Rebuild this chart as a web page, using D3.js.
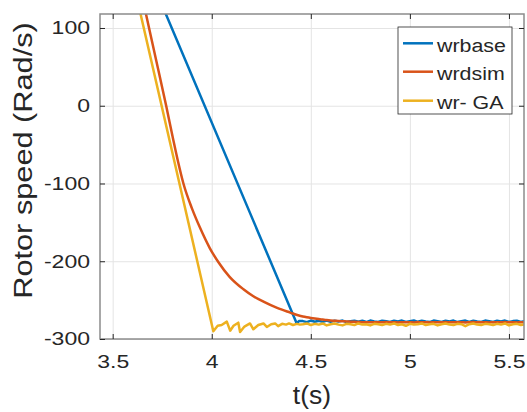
<!DOCTYPE html>
<html>
<head>
<meta charset="utf-8">
<script src="https://cdn.jsdelivr.net/npm/d3@7"></script>
<style>
  html, body { margin: 0; padding: 0; background: #fff; }
  text { font-family: 'Liberation Sans', Arial, Helvetica, sans-serif; fill: #262626; }
</style>
</head>
<body>
<div id="chart"></div>
<script>
// axis limits and ticks
const xLim = [3.436, 5.576]
const yLim = [-300, 118]
const xTicks = [3.5, 4, 4.5, 5, 5.5]
const yTicks = [-300, -200, -100, 0, 100]

const seriesNames = ['wrbase', 'wrdsim', 'wr- GA']
const seriesColors = ['#0072BD', '#D95319', '#EDB120']

// transient part of each curve [t, w]
const blueHead = [[3.74, 135], [4.429, -280], [4.44, -277]]
const orangeHead = [[3.64, 152], [3.668, 118], [3.72, 58], [3.77, 0], [3.806, -44], [3.83, -72],
  [3.857, -100], [3.90, -132], [3.941, -157], [3.99, -183], [4.033, -201], [4.09, -220],
  [4.16, -236], [4.21, -245], [4.261, -252], [4.33, -260], [4.396, -266], [4.44, -269.8]]
const yellowHead = [[3.62, 141], [4.008, -290], [4.03, -283], [4.05, -282], [4.076, -277.7],
  [4.093, -289.3], [4.11, -283], [4.134, -279], [4.143, -291], [4.165, -284], [4.193, -280],
  [4.21, -287.5], [4.235, -282], [4.261, -280], [4.278, -284.5], [4.30, -281], [4.32, -280],
  [4.335, -283.5], [4.355, -280.5], [4.375, -281.5], [4.39, -280], [4.41, -282], [4.43, -280.5],
  [4.445, -281.5]]

// steady part, shared time samples
const tTail = [4.46, 4.48, 4.50, 4.52, 4.54, 4.56, 4.58, 4.60, 4.62, 4.64,
  4.66, 4.68, 4.70, 4.72, 4.74, 4.76, 4.78, 4.80, 4.82, 4.84,
  4.86, 4.88, 4.90, 4.92, 4.94, 4.96, 4.98, 5.00, 5.02, 5.04,
  5.06, 5.08, 5.10, 5.12, 5.14, 5.16, 5.18, 5.20, 5.22, 5.24,
  5.26, 5.28, 5.30, 5.32, 5.34, 5.36, 5.38, 5.40, 5.42, 5.44,
  5.46, 5.48, 5.50, 5.52, 5.54, 5.56, 5.58]
const blueTail = [-277, -278.3, -276.3, -277.8, -276.5, -278, -276.2, -277.8, -276.6, -277.4,
  -276.3, -278.1, -277, -276.4, -277.9, -276.6, -278.2, -276.3, -277.5, -278,
  -276.4, -277.2, -278.2, -276.6, -277.5, -276.3, -278, -277, -276.2, -277.9,
  -276.6, -277.5, -278.2, -276.3, -277.1, -278, -276.6, -277.5, -276.3, -278.2,
  -277, -276.3, -278, -276.6, -277.5, -278, -276.3, -277.1, -278.2, -276.6,
  -277.5, -276.3, -278, -277, -276.6, -278, -277]
const orangeTail = [-271, -272, -272.9, -273.7, -274.4, -275, -275.6, -276.1, -276.5, -276.9,
  -277.2, -277.5, -277.7, -277.9, -278.1, -278.3, -278.4, -278.5, -278.3, -278.6,
  -278.4, -278.2, -278.6, -278.4, -278.7, -278.3, -278.5, -278.4, -278.7, -278.2,
  -278.5, -278.4, -278.7, -278.3, -278.6, -278.4, -278.2, -278.6, -278.4, -278.5,
  -278.3, -278.7, -278.4, -278.2, -278.6, -278.4, -278.5, -278.7, -278.3, -278.4,
  -278.6, -278.2, -278.5, -278.4, -278.7, -278.4, -278.4]
const yellowTail = [-281, -280, -282, -280.5, -281.5, -280, -282.5, -281, -280, -281.5,
  -282.5, -280.5, -281, -282, -280, -281.5, -281, -282.5, -280.5, -281,
  -282, -280.5, -281.5, -280, -282, -281, -283, -280.5, -281.5, -281,
  -280, -282, -281, -280.5, -282.5, -281, -280, -281.5, -282, -280.5,
  -281, -283.5, -281, -280, -281.5, -282, -280.5, -281, -282, -280.5,
  -281.5, -280, -282.5, -281, -280.5, -282, -281]

const series = [
  blueHead.concat(d3.zip(tTail, blueTail)),
  orangeHead.concat(d3.zip(tTail, orangeTail)),
  yellowHead.concat(d3.zip(tTail, yellowTail))
]
// the simulated curve is smooth, the others have corners
const seriesCurves = [d3.curveLinear, d3.curveMonotoneX, d3.curveLinear]

const width = 527
const height = 412
const plotLeft = 100, plotRight = 524, plotTop = 14, plotBottom = 339
const stretch = 1.28 // the source font renders wider than Arial

const svg = d3.select('#chart').append('svg')
  .attr('width', width).attr('height', height)

const x = d3.scaleLinear().domain(xLim).range([plotLeft, plotRight])
const y = d3.scaleLinear().domain(yLim).range([plotBottom, plotTop])

// grid
svg.append('g')
  .attr('transform', `translate(0,${plotBottom})`)
  .call(d3.axisBottom(x).tickValues(xTicks).tickSize(-(plotBottom - plotTop)).tickFormat(''))
  .call(g => g.select('.domain').remove())
  .call(g => g.selectAll('line').attr('stroke', '#e4e4e4'))
svg.append('g')
  .attr('transform', `translate(${plotLeft},0)`)
  .call(d3.axisLeft(y).tickValues(yTicks).tickSize(-(plotRight - plotLeft)).tickFormat(''))
  .call(g => g.select('.domain').remove())
  .call(g => g.selectAll('line').attr('stroke', '#e4e4e4'))

// curves
svg.append('clipPath').attr('id', 'plotClip')
  .append('rect').attr('x', plotLeft).attr('y', plotTop)
  .attr('width', plotRight - plotLeft).attr('height', plotBottom - plotTop)

svg.append('g').attr('clip-path', 'url(#plotClip)')
  .selectAll('path')
  .data(series)
  .enter()
  .append('path')
  .attr('d', (d, i) => d3.line().curve(seriesCurves[i]).x(p => x(p[0])).y(p => y(p[1]))(d))
  .attr('fill', 'none')
  .attr('stroke', (d, i) => seriesColors[i])
  .attr('stroke-width', 2.5)
  .attr('stroke-linejoin', 'round')

// box
svg.append('rect')
  .attr('x', plotLeft).attr('y', plotTop)
  .attr('width', plotRight - plotLeft).attr('height', plotBottom - plotTop)
  .attr('fill', 'none').attr('stroke', '#8c8c8c').attr('stroke-width', 1.5)

const styleTicks = g => {
  g.select('.domain').remove()
  g.selectAll('line').attr('stroke', '#262626')
}

// axes, ticks pointing inward
svg.append('g')
  .attr('transform', `translate(0,${plotBottom})`)
  .call(d3.axisBottom(x).tickValues(xTicks).tickSizeInner(-5).tickSizeOuter(0)
    .tickPadding(16).tickFormat(d => d))
  .call(styleTicks)
  .call(g => g.selectAll('text')
    .attr('font-size', 18).attr('font-family', null)
    .attr('transform', `scale(${stretch},1)`))
svg.append('g')
  .attr('transform', `translate(0,${plotTop})`)
  .call(d3.axisTop(x).tickValues(xTicks).tickSizeInner(-5).tickSizeOuter(0).tickFormat(''))
  .call(styleTicks)
svg.append('g')
  .attr('transform', `translate(${plotLeft},0)`)
  .call(d3.axisLeft(y).tickValues(yTicks).tickSizeInner(-5).tickSizeOuter(0)
    .tickPadding(10).tickFormat(d => d))
  .call(styleTicks)
  .call(g => g.selectAll('text')
    .attr('font-size', 18).attr('font-family', null)
    .attr('x', -10 / stretch)
    .attr('transform', `scale(${stretch},1)`))
svg.append('g')
  .attr('transform', `translate(${plotRight},0)`)
  .call(d3.axisRight(y).tickValues(yTicks).tickSizeInner(-5).tickSizeOuter(0).tickFormat(''))
  .call(styleTicks)

// axis titles
svg.append('text')
  .attr('transform', `translate(${(plotLeft + plotRight) / 2},404) scale(1.06,1)`)
  .attr('text-anchor', 'middle')
  .style('font-size', '25px')
  .text('t(s)')
svg.append('text')
  .attr('transform', 'translate(31.5,160.5) rotate(-90) scale(1.2,1)')
  .attr('text-anchor', 'middle')
  .style('font-size', '25.6px')
  .text('Rotor speed (Rad/s)')

// legend
const legend = svg.append('g')
legend.append('rect')
  .attr('x', 398).attr('y', 27).attr('width', 114).attr('height', 87)
  .attr('fill', '#fff').attr('stroke', '#262626').attr('stroke-width', 0.8)
const item = legend.selectAll('g.item')
  .data(seriesNames)
  .enter()
  .append('g')
  .attr('class', 'item')
  .attr('transform', (d, i) => `translate(0,${[43.3, 71.7, 100.7][i]})`)
item.append('line')
  .attr('x1', 403).attr('x2', 433)
  .attr('stroke', (d, i) => seriesColors[i])
  .attr('stroke-width', 2.5)
item.append('text')
  .attr('transform', 'translate(437,8.2) scale(1.15,1)')
  .style('font-size', '18.6px')
  .text(d => d)
</script>
</body>
</html>
